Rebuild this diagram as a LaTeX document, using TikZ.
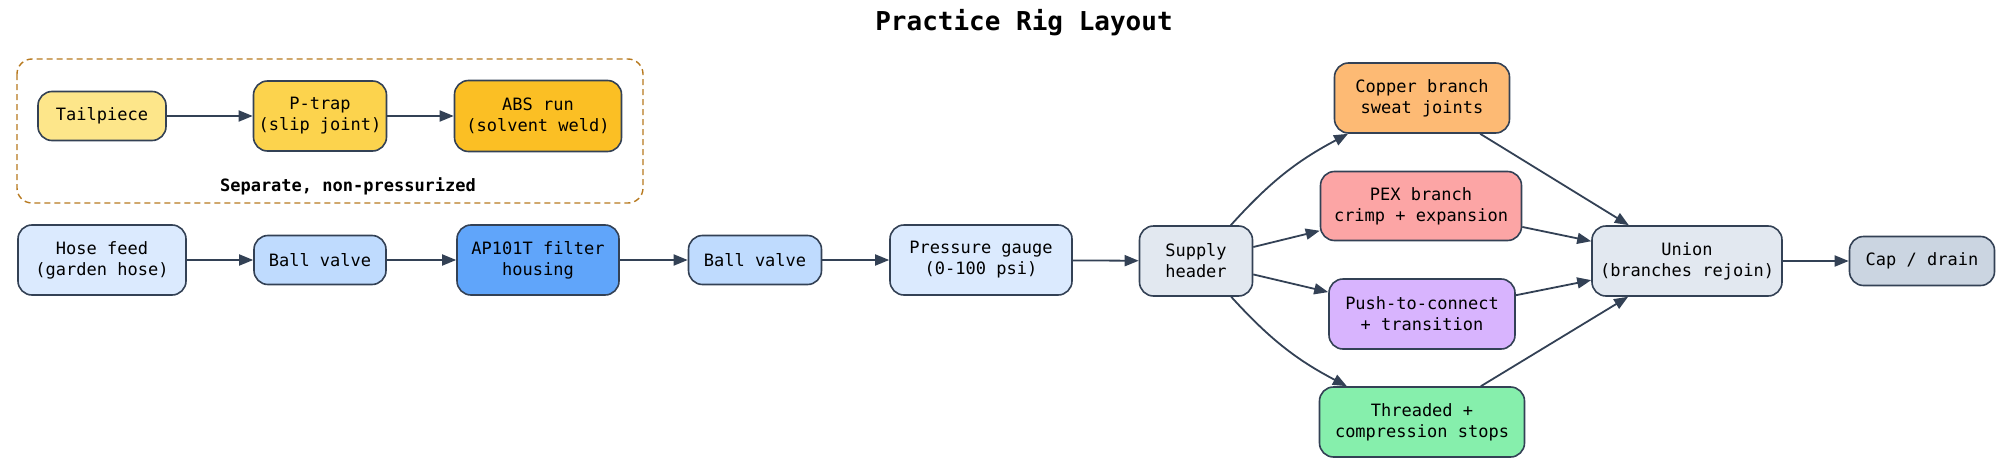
\documentclass[tikz,border=0pt]{standalone}
\usepackage{fontspec}
\setmonofont{DejaVu Sans Mono}
\usetikzlibrary{arrows.meta}
\definecolor{edge}{HTML}{334155}
\definecolor{groupline}{HTML}{B7791F}
\definecolor{ambA}{HTML}{FDE68A}
\definecolor{ambB}{HTML}{FCD34D}
\definecolor{ambC}{HTML}{FBBF24}
\definecolor{blueA}{HTML}{DBEAFE}
\definecolor{blueB}{HTML}{BFDBFE}
\definecolor{blueC}{HTML}{60A5FA}
\definecolor{slateA}{HTML}{E2E8F0}
\definecolor{slateB}{HTML}{CBD5E1}
\definecolor{copperfill}{HTML}{FDBA74}
\definecolor{pexfill}{HTML}{FCA5A5}
\definecolor{pushfill}{HTML}{D8B4FE}
\definecolor{threadfill}{HTML}{86EFAC}

\begin{document}
\begin{tikzpicture}[x=1pt,y=-1pt,
          part/.style={draw=edge, line width=1.6pt, rounded corners=14pt, align=center, inner sep=0pt,
            font=\ttfamily\fontsize{17}{21}\selectfont},
          flow/.style={draw=edge, line width=1.8pt, -{Triangle[length=14pt,width=11pt]}}]
          \useasboundingbox (0,0) rectangle (2000,463);
          \node [font=\ttfamily\bfseries\fontsize{26}{30}\selectfont] (title) at (1024,23) {Practice Rig Layout};
          \draw [groupline, line width=1.4pt, dash pattern=on 6pt off 4pt, rounded corners=15pt] (17,59) rectangle (643,203);
          \node [font=\ttfamily\bfseries\fontsize{17}{21}\selectfont] (grouplabel) at (348,186) {Separate, non-pressurized};
          \node [part, fill=ambA, minimum width=128pt, minimum height=49pt] (tail) at (102,116) {Tailpiece};
          \node [part, fill=ambB, minimum width=133pt, minimum height=70pt] (ptrap) at (320,116) {P-trap\\(slip joint)};
          \node [part, fill=ambC, minimum width=167pt, minimum height=71pt] (abs) at (538,116) {ABS run\\(solvent weld)};
          \node [part, fill=blueA, minimum width=168pt, minimum height=70pt] (hose) at (102,260) {Hose feed\\(garden hose)};
          \node [part, fill=blueB, minimum width=132pt, minimum height=49pt] (valveA) at (320,260) {Ball valve};
          \node [part, fill=blueC, minimum width=162pt, minimum height=70pt] (filter) at (538,260) {AP101T filter\\housing};
          \node [part, fill=blueB, minimum width=133pt, minimum height=49pt] (valveB) at (755,260) {Ball valve};
          \node [part, fill=blueA, minimum width=182pt, minimum height=70pt] (gauge) at (981,260) {Pressure gauge\\(0-100 psi)};
          \node [part, fill=slateA, minimum width=113pt, minimum height=70pt] (header) at (1196,261) {Supply\\header};
          \node [part, fill=copperfill, minimum width=175pt, minimum height=70pt] (copper) at (1422,98) {Copper branch\\sweat joints};
          \node [part, fill=pexfill, minimum width=201pt, minimum height=69pt] (pex) at (1421,206) {PEX branch\\crimp + expansion};
          \node [part, fill=pushfill, minimum width=186pt, minimum height=70pt] (push) at (1422,314) {Push-to-connect\\+ transition};
          \node [part, fill=threadfill, minimum width=205pt, minimum height=70pt] (thread) at (1422,422) {Threaded +\\compression stops};
          \node [part, fill=slateA, minimum width=190pt, minimum height=70pt] (union) at (1687,261) {Union\\(branches rejoin)};
          \node [part, fill=slateB, minimum width=145pt, minimum height=49pt] (cap) at (1922,261) {Cap / drain};
          \draw [flow] (tail) -- (ptrap);
          \draw [flow] (ptrap) -- (abs);
          \draw [flow] (hose) -- (valveA);
          \draw [flow] (valveA) -- (filter);
          \draw [flow] (filter) -- (valveB);
          \draw [flow] (valveB) -- (gauge);
          \draw [flow] (gauge) -- (header);
          \draw [flow] (header) to [bend left=10] (copper);
          \draw [flow] (header) -- (pex);
          \draw [flow] (header) -- (push);
          \draw [flow] (header) to [bend right=10] (thread);
          \draw [flow] (copper) -- (union);
          \draw [flow] (pex) -- (union);
          \draw [flow] (push) -- (union);
          \draw [flow] (thread) -- (union);
          \draw [flow] (union) -- (cap);
        \end{tikzpicture}
\end{document}
